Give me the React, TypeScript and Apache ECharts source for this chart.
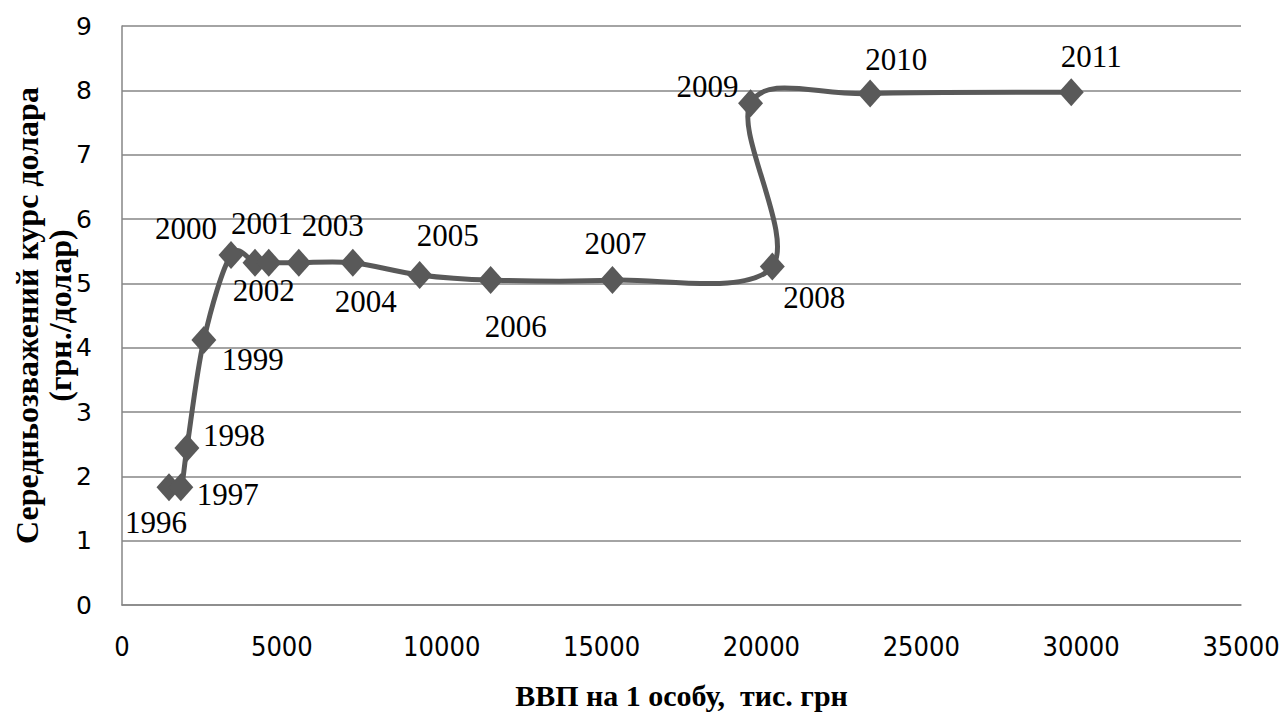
import React, { useEffect, useRef } from "react";
import * as echarts from "echarts";

const years = ["1996","1997","1998","1999","2000","2001","2002","2003","2004","2005","2006","2007","2008","2009","2010","2011"];
const gdpPerCapita = [1470, 1840, 2030, 2560, 3410, 4160, 4590, 5530, 7220, 9310, 11530, 15340, 20340, 19660, 23400, 29690];
const exchangeRate = [1.83, 1.83, 2.44, 4.12, 5.44, 5.32, 5.32, 5.32, 5.32, 5.13, 5.05, 5.05, 5.26, 7.80, 7.95, 7.97];
const xTicks = [0, 5000, 10000, 15000, 20000, 25000, 30000, 35000];
const yTicks = [0, 1, 2, 3, 4, 5, 6, 7, 8, 9];

// label offsets (style only), in pixels relative to each marker's centre
const labelOffsets: [number, number][] = [
  [-13, 35], [47, 7], [47, -13], [49, 20], [-45, -27], [7, -39], [-5, 28], [34, -37],
  [13, 39], [28, -39], [25, 46], [3, -37], [42, 31], [-43, -17], [26, -34], [20, -36],
];

const LINE_COLOR = "#595959";

export default function App() {
  const ref = useRef<HTMLDivElement>(null);
  useEffect(() => {
    if (!ref.current) return;
    const chart = echarts.init(ref.current, null, { renderer: "svg" });
    const n = years.length;
    const pairs = years.map((_, i) => [gdpPerCapita[i], exchangeRate[i]]);
    const scatterData = years.map((y, i) => ({
      value: pairs[i],
      name: y,
      label: { offset: labelOffsets[i] },
    }));

    // Excel-like smoothed line: cubic Bezier segments (Catmull-Rom tangents)
    const renderSegment = (params: any, api: any) => {
      const i = params.dataIndex;
      if (i >= n - 1) return null;
      const c = (j: number) => {
        const k = Math.max(0, Math.min(n - 1, j));
        return api.coord(pairs[k]);
      };
      const p0 = c(i - 1);
      const p1 = c(i);
      const p2 = c(i + 1);
      const p3 = c(i + 2);
      const t = 1 / 6;
      return {
        type: "bezierCurve",
        shape: {
          x1: p1[0],
          y1: p1[1],
          cpx1: p1[0] + (p2[0] - p0[0]) * t,
          cpy1: p1[1] + (p2[1] - p0[1]) * t,
          cpx2: p2[0] - (p3[0] - p1[0]) * t,
          cpy2: p2[1] - (p3[1] - p1[1]) * t,
          x2: p2[0],
          y2: p2[1],
        },
        style: { stroke: LINE_COLOR, lineWidth: 5, fill: "none", lineCap: "round" },
        silent: true,
      };
    };

    chart.setOption({
      animation: false,
      backgroundColor: "#ffffff",
      grid: { left: 122, right: 46, top: 26, bottom: 113, containLabel: false, outerBoundsMode: "none" },
      xAxis: {
        type: "value",
        min: xTicks[0],
        max: xTicks[xTicks.length - 1],
        interval: 5000,
        name: "ВВП на 1 особу,  тис. грн",
        nameLocation: "middle",
        nameGap: 75,
        nameMoveOverlap: false,
        nameTextStyle: {
          fontFamily: "'Liberation Serif', serif",
          fontWeight: "bold",
          fontSize: 30,
          color: "#000",
        },
        axisLine: { show: true, lineStyle: { color: "#868686", width: 1.5 } },
        axisTick: { show: false },
        splitLine: { show: false },
        axisLabel: {
          margin: 28,
          fontSize: 27,
          fontFamily: "'DejaVu Sans Condensed', 'Liberation Sans Narrow', sans-serif",
          color: "#000",
          formatter: (v: number) => String(v),
        },
      },
      yAxis: {
        type: "value",
        min: yTicks[0],
        max: yTicks[yTicks.length - 1],
        interval: 1,
        name: "Середньозважений курс долара\n(грн./долар)",
        nameLocation: "middle",
        nameRotate: 90,
        nameGap: 46,
        nameMoveOverlap: false,
        nameTextStyle: {
          fontFamily: "'Liberation Serif', serif",
          fontWeight: "bold",
          fontSize: 32,
          lineHeight: 33,
          color: "#000",
        },
        axisLine: { show: true, lineStyle: { color: "#868686", width: 1.5 } },
        axisTick: { show: false },
        splitLine: { show: true, lineStyle: { color: "#868686", width: 1.5 } },
        axisLabel: {
          margin: 30,
          fontSize: 25,
          fontFamily: "'DejaVu Sans', sans-serif",
          color: "#000",
          formatter: (v: number) => String(v),
        },
      },
      series: [
        {
          type: "custom",
          data: pairs,
          encode: { x: 0, y: 1 },
          renderItem: renderSegment,
          clip: false,
          z: 2,
        },
        {
          type: "scatter",
          data: scatterData,
          symbol: "diamond",
          symbolSize: [25, 28],
          itemStyle: { color: LINE_COLOR, opacity: 1 },
          z: 3,
          label: {
            show: true,
            position: "inside",
            formatter: (p: any) => p.name,
            fontFamily: "'Liberation Serif', 'Times New Roman', serif",
            fontSize: 31,
            color: "#000",
          },
        },
      ],
    });
    return () => chart.dispose();
  }, []);
  return (
    <div
      ref={ref}
      style={{ position: "fixed", left: 0, top: 0, width: 1287, height: 718 }}
    />
  );
}
